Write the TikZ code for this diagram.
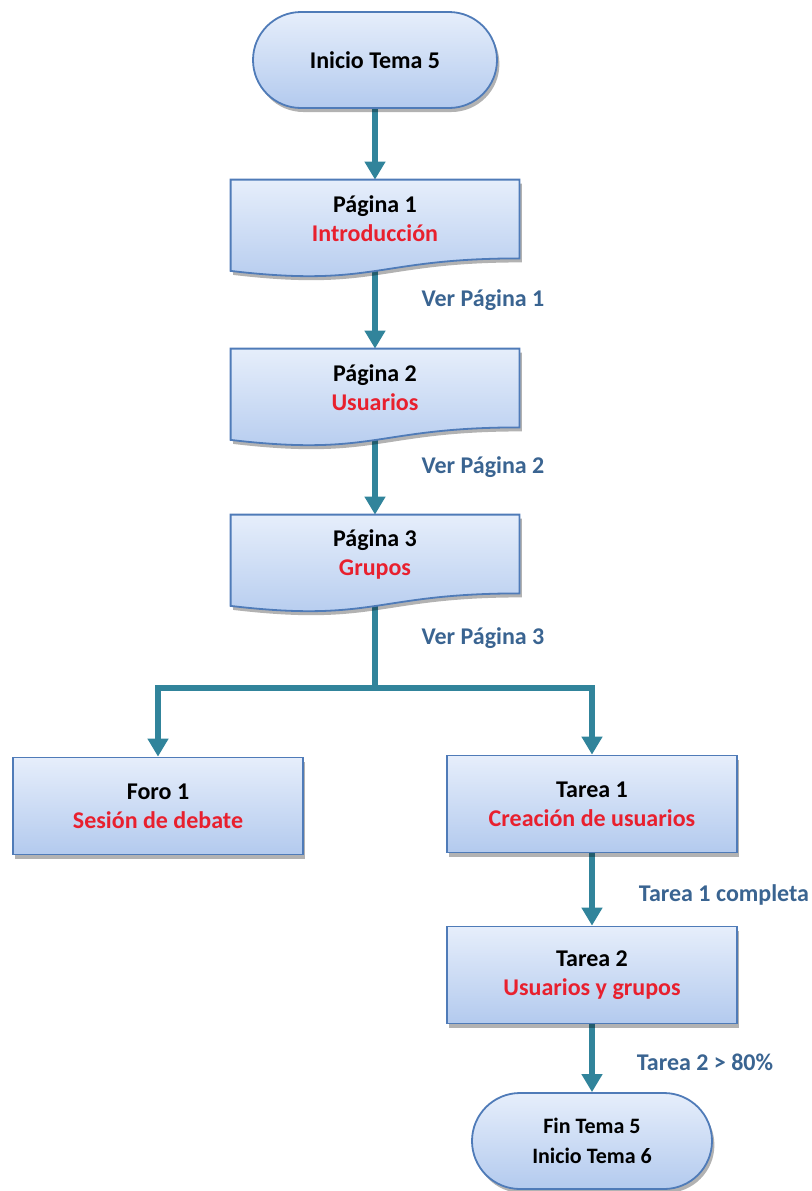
\documentclass[tikz,border=0pt]{standalone}
\usepackage{fontspec}
\setmainfont{Carlito}
\usetikzlibrary{arrows.meta,calc,shadows}
\pgfdeclarelayer{edgelayer}
\pgfdeclarelayer{nodelayer}
\pgfsetlayers{edgelayer,nodelayer,main}
\definecolor{borde}{HTML}{4F7BB8}
\definecolor{cajaarriba}{HTML}{E6EEFB}
\definecolor{cajaabajo}{HTML}{B3CAEE}
\definecolor{flechacol}{HTML}{31849B}
\definecolor{etiqcol}{HTML}{3A6491}
\definecolor{rojo}{HTML}{E8202E}
\tikzstyle{sombra}=[drop shadow={shadow xshift=1.2pt, shadow yshift=-2pt, opacity=0.3, fill=black}]
\tikzstyle{caja}=[rectangle, sombra, draw=borde, line width=0.9pt, top color=cajaarriba, bottom color=cajaabajo, minimum width=145pt, minimum height=48.5pt, align=center, font=\bfseries\fontsize{12}{14.5}\selectfont]
\tikzstyle{terminal}=[caja, rounded corners=24pt, minimum width=122pt, minimum height=48pt]
\tikzstyle{pagina}=[rectangle, minimum width=144pt, minimum height=39pt, align=center, font=\bfseries\fontsize{12}{14.5}\selectfont]
\tikzstyle{documento}=[sombra, draw=borde, line width=0.9pt, top color=cajaarriba, bottom color=cajaabajo]
\tikzstyle{flecha}=[draw=flechacol, line width=3pt, -{Triangle[width=10pt,length=9pt]}]
\tikzstyle{linea}=[draw=flechacol, line width=3pt]
\tikzstyle{etiqueta}=[text=etiqcol, font=\bfseries\fontsize{12}{14.5}\selectfont]

\begin{document}
\begin{tikzpicture}[x=0.5pt,y=-0.5pt]
	\useasboundingbox (0,0) rectangle (812,1191);
	% nodos
	\node [style=terminal] (ini) at (375,60) {Inicio Tema 5};
	\node [style=pagina] (p1) at (375,219) {Página 1\\{\color{rojo}Introducción}};
	\node [style=pagina] (p2) at (375,388) {Página 2\\{\color{rojo}Usuarios}};
	\node [style=pagina] (p3) at (375,554) {Página 3\\{\color{rojo}Grupos}};
	\node [style=caja] (foro) at (158,806) {Foro 1\\{\color{rojo}Sesión de debate}};
	\node [style=caja] (t1) at (592,804) {Tarea 1\\{\color{rojo}Creación de usuarios}};
	\node [style=caja] (t2) at (592,975) {Tarea 2\\{\color{rojo}Usuarios y grupos}};
	\node [style=terminal, minimum width=120pt, font=\bfseries\fontsize{11}{15}\selectfont] (fin) at (592,1141) {Fin Tema 5\\Inicio Tema 6};
	\coordinate (rama) at (375,688);
	% etiquetas
	\node [style=etiqueta] (l1) at (483,300) {Ver Página 1};
	\node [style=etiqueta] (l2) at (483,467) {Ver Página 2};
	\node [style=etiqueta] (l3) at (483,638) {Ver Página 3};
	\node [style=etiqueta] (l4) at (724,895) {Tarea 1 completa};
	\node [style=etiqueta] (l5) at (705,1062) {Tarea 2 > 80\%};
	\begin{pgfonlayer}{nodelayer}
		\foreach \p in {p1,p2,p3}
			\path [style=documento] (\p.north west) -- (\p.north east) -- (\p.south east)
				.. controls (\p.south) and ($(\p.south)+(0,29.5)$) .. ($(\p.south west)+(0,12.5)$) -- cycle;
	\end{pgfonlayer}
	\begin{pgfonlayer}{edgelayer}
		\draw [style=flecha] (ini) to (p1);
		\draw [style=flecha] (p1) to (p2);
		\draw [style=flecha] (p2) to (p3);
		\draw [style=linea] (p3) to (rama);
		\draw [style=flecha] (rama) -| (foro);
		\draw [style=flecha] (rama) -| (t1);
		\draw [style=flecha] (t1) to (t2);
		\draw [style=flecha] (t2) to (fin);
	\end{pgfonlayer}
\end{tikzpicture}
\end{document}
